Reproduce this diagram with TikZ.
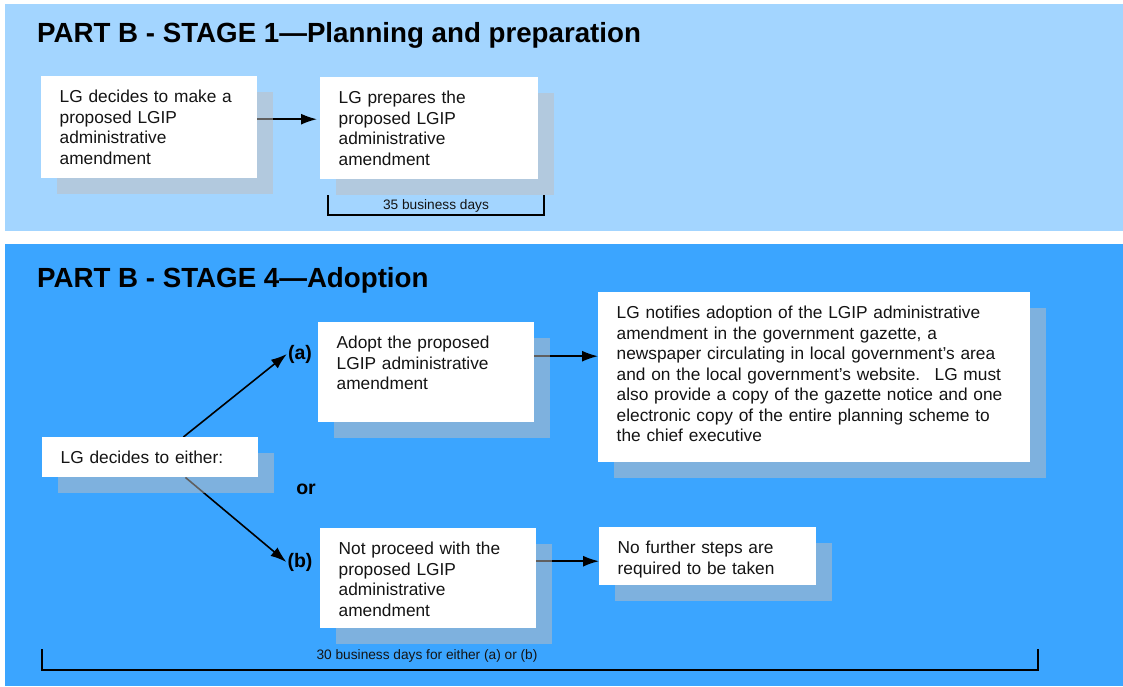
\documentclass[tikz,border=0pt]{standalone}
\usepackage{fontspec}
\setmainfont{Liberation Sans}
\usepackage{tikz}
\usepackage{xcolor}
\usetikzlibrary{arrows.meta}
\usetikzlibrary{shadows}
\usetikzlibrary{backgrounds}

\definecolor{panellight}{RGB}{163,213,255}
\definecolor{paneldark}{RGB}{59,165,255}
\definecolor{shadowgrey}{RGB}{193,190,190}
\definecolor{textdark}{RGB}{20,20,20}

\tikzset{
	stepbox/.style 2 args={fill=white, anchor=north west, align=left, text=textdark,
		inner xsep=18.5pt, inner ysep=0pt, text width=#1-37pt,
		text height=26.6pt, text depth={#2-26.6pt},
		font=\fontsize{17.3}{20.5}\selectfont,
		drop shadow={shadow xshift=15.5pt, shadow yshift=-15.5pt, fill=shadowgrey, opacity=.5}},
	stagetitle/.style={anchor=base west, inner sep=0pt, font=\bfseries\fontsize{27.7}{32}\selectfont},
	choicelabel/.style={inner sep=1pt, font=\bfseries\fontsize{19.5}{22}\selectfont},
	daysnote/.style={inner sep=0pt, text=textdark, font=\fontsize{13.7}{16}\selectfont},
	flowarrow/.style={-{Latex[length=16pt,width=11pt]}, line width=1.6pt, black},
	daysbracket/.style={line width=1.5pt, black}
}

\begin{document}
\begin{tikzpicture}[x=1pt, y=-1pt]
	\useasboundingbox (0,0) rectangle (1123,686);

	%panels
	\begin{scope}[on background layer]
		\fill[panellight] (5,4) rectangle (1123,231); % stage 1
		\fill[paneldark] (5,244) rectangle (1123,686); % stage 4
	\end{scope}

	% titles
	\node[stagetitle] (titleone) at (37,42) {PART B - STAGE 1—Planning and preparation};
	\node[stagetitle] (titlefour) at (37,287) {PART B - STAGE 4—Adoption};

	% STAGE 1 boxes
	\node[stepbox={216pt}{102pt}] (decide) at (41,76) {LG decides to make a\\proposed LGIP\\administrative\\amendment};
	\node[stepbox={218pt}{102pt}] (prepare) at (320,77) {LG prepares the\\proposed LGIP\\administrative\\amendment};

	% STAGE 4 boxes
	\node[stepbox={216pt}{40pt}] (either) at (42,437) {LG decides to either:};
	\node[stepbox={216pt}{100pt}] (adopt) at (318,322) {Adopt the proposed\\LGIP administrative\\amendment};
	\node[stepbox={216pt}{100pt}] (notproceed) at (320,528) {Not proceed with the\\proposed LGIP\\administrative\\amendment};
	\node[stepbox={432pt}{170pt}] (notify) at (598,292) {LG notifies adoption of the LGIP administrative\\amendment in the government gazette, a\\newspaper circulating in local government’s area\\and on the local government’s website.~ LG must\\also provide a copy of the gazette notice and one\\electronic copy of the entire planning scheme to\\the chief executive};
	\node[stepbox={217pt}{58pt}] (nofurther) at (599,527) {No further steps are\\required to be taken};

	% Text nodes
	\node[choicelabel] (opta) at (300,354) {(a)};
	\node[choicelabel] (optb) at (300,562) {(b)};
	\node[choicelabel] (ornote) at (306,489) {or};
	\node[daysnote] (days35) at (436,206) {35 business days};
	\node[daysnote] (days30) at (427,656) {30 business days for either (a) or (b)};

	% brackets
	\draw[daysbracket] (328,195) |- (544,215) -- (544,195); % 35 days
	\draw[daysbracket] (42,649) |- (1038,670) -- (1038,649); % 30 days

	% Arrows
	\begin{scope}[on background layer]
		\draw[flowarrow, shorten >=3pt] ([yshift=8pt]decide.east) -- ([yshift=8pt]decide.east -| prepare.west);
		\draw[flowarrow] ([xshift=-75pt]either.north east) -- (opta.west);
		\draw[flowarrow] ([xshift=-73pt]either.south east) -- (optb.west);
		\draw[flowarrow] ([yshift=16pt]adopt.east) -- ([yshift=16pt]adopt.east -| notify.west);
		\draw[flowarrow] ([yshift=17pt]notproceed.east) -- ([yshift=17pt]notproceed.east -| nofurther.west);
	\end{scope}
\end{tikzpicture}
\end{document}
